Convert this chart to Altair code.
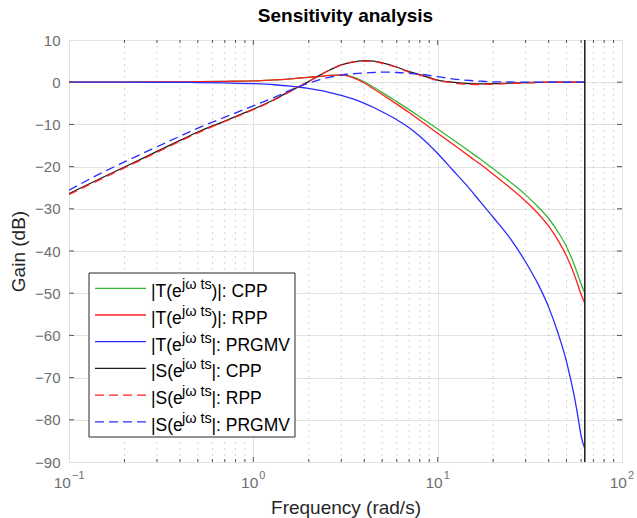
import altair as alt
import pandas as pd

# ---------------- data ----------------
freq = [0.1, 0.15, 0.2, 0.3, 0.4, 0.5, 0.7, 1.0, 1.3, 1.6, 1.8, 2.0, 2.3, 2.6,
        3.0, 3.5, 4.0, 4.5, 5.0, 6.0, 7.0, 8.0, 10, 12, 15, 17, 20, 25, 30,
        35, 40, 45, 50, 55, 58, 60, 62.83]

t_cpp = [0, 0, 0.02, 0.05, 0.08, 0.12, 0.2, 0.3, 0.55, 0.8, 1.0, 1.15, 1.4, 1.6,
         1.75, 1.2, 0.1, -1.2, -2.4, -4.6, -6.5, -8.2, -11.1, -13.5, -16.5, -18.2,
         -20.5, -23.8, -26.7, -29.5, -32.3, -35.5, -39.0, -43.2, -46.0, -47.8, -50.0]

t_rpp = [0, 0, 0.02, 0.05, 0.08, 0.12, 0.2, 0.3, 0.55, 0.8, 1.0, 1.15, 1.4, 1.6,
         1.75, 1.05, -0.2, -1.6, -2.9, -5.2, -7.2, -9.0, -12.1, -14.6, -17.7, -19.4,
         -21.8, -25.2, -28.2, -31.1, -34.1, -37.5, -41.2, -45.5, -48.4, -50.3, -52.3]

t_prgmv = [0, 0, 0, -0.02, -0.05, -0.08, -0.18, -0.35, -0.6, -0.95, -1.2, -1.5,
           -1.95, -2.45, -3.1, -4.0, -5.0, -6.0, -7.0, -8.9, -10.8, -12.8, -16.9,
           -20.7, -25.4, -28.3, -32.0, -37.3, -42.6, -47.8, -53.3, -59.5, -66.2,
           -74.3, -79.9, -83.8, -86.8]

s_cpp = [-26.4, -22.7, -20.1, -16.4, -13.8, -11.8, -9.2, -6.4, -4.1, -2.0, -0.9,
         0.2, 1.7, 2.9, 4.1, 4.8, 5.1, 5.0, 4.6, 3.6, 2.5, 1.8, 0.5, 0.0, -0.35,
         -0.4, -0.35, -0.2, -0.1, -0.05, 0, 0, 0, 0, 0, 0, 0]

s_rpp = [-26.6, -22.9, -20.3, -16.6, -14.0, -12.0, -9.3, -6.5, -4.2, -2.1, -0.9,
         0.2, 1.7, 2.9, 4.1, 4.8, 5.0, 4.9, 4.5, 3.5, 2.4, 1.7, 0.4, -0.15, -0.5,
         -0.55, -0.45, -0.3, -0.15, -0.05, 0, 0, 0, 0, 0, 0, 0]

s_prgmv = [-25.6, -21.5, -18.9, -15.3, -12.8, -10.9, -8.3, -5.6, -3.6, -1.8, -0.9,
           -0.2, 0.6, 1.2, 1.7, 2.0, 2.2, 2.3, 2.4, 2.3, 2.1, 1.9, 1.3, 0.8, 0.4,
           0.25, 0.1, 0.05, 0, 0, 0, 0, 0, 0, 0, 0, 0]

nyquist = [62.83]

series_values = [t_cpp, t_rpp, t_prgmv, s_cpp, s_rpp, s_prgmv]
legend_base = ["|T(e", "|T(e", "|T(e", "|S(e", "|S(e", "|S(e"]
legend_sup = ["j\u03c9 ts"] * 6
legend_rest = [")|: CPP", ")|: RPP", "|: PRGMV", "|: CPP", "|: RPP", "|: PRGMV"]
colors = ["#33b833", "#ff2020", "#2b2bff", "#1e1e1e", "#ff2020", "#2b2bff"]
dashed = [False, False, False, False, True, True]

major_x = [0.1, 1, 10, 100]
x_exp = ["\u22121", "0", "1", "2"]
minor_x = [0.2, 0.3, 0.4, 0.5, 0.6, 0.7, 0.8, 0.9,
           2, 3, 4, 5, 6, 7, 8, 9,
           20, 30, 40, 50, 60, 70, 80, 90]
y_ticks = list(range(-90, 11, 10))

# ---------------- layout ----------------
W, H = 553, 422
FONT = "Liberation Sans"
LABEL_COLOR = "#6e6e6e"
TITLE_SIZE = 19

x_enc = alt.X("f:Q",
              scale=alt.Scale(type="log", domain=[0.1, 100], nice=False),
              axis=alt.Axis(values=major_x, grid=True, gridColor="#e2e2e2",
                            labels=False, ticks=False, domain=False,
                            title="Frequency (rad/s)", titleFont=FONT,
                            titleFontSize=TITLE_SIZE, titleFontWeight="normal",
                            titleColor="#262626", titleX=W / 2, titleY=45,
                            titleAlign="center", titleBaseline="middle"))
y_enc = alt.Y("dB:Q",
              scale=alt.Scale(domain=[-90, 10], nice=False, zero=False),
              axis=alt.Axis(values=y_ticks, grid=True, gridColor="#e2e2e2",
                            ticks=False, domain=False, labelFont=FONT,
                            labelFontSize=15, labelColor=LABEL_COLOR,
                            labelPadding=9,
                            title="Gain (dB)", titleFont=FONT,
                            titleFontSize=TITLE_SIZE,
                            titleFontWeight="normal", titleColor="#262626",
                            titleX=-51, titleY=H / 2, titleAngle=270,
                            titleAlign="center", titleBaseline="middle"))

layers = []

# minor dotted grid
minor_df = pd.DataFrame({"f": minor_x})
layers.append(alt.Chart(minor_df).mark_rule(color="#c8c8c8", strokeWidth=1,
                                            strokeDash=[1.5, 4.5]).encode(x=x_enc))

# curves
for vals, col, dsh in zip(series_values, colors, dashed):
    df = pd.DataFrame({"f": freq, "dB": vals})
    kw = dict(color=col, strokeWidth=1.3, interpolate="monotone", clip=True)
    if dsh:
        kw["strokeDash"] = [9, 5]
    layers.append(alt.Chart(df).mark_line(**kw).encode(x=x_enc, y=y_enc))

# Nyquist vertical line
layers.append(alt.Chart(pd.DataFrame({"f": nyquist})).mark_rule(
    color="#1a1a1a", strokeWidth=1.5).encode(x=x_enc))

# inner ticks
major_df = pd.DataFrame({"f": major_x[1:-1]})
for y0, y1, d in [(H, H - 5, major_df), (0, 5, major_df),
                  (H, H - 3, minor_df), (0, 3, minor_df)]:
    layers.append(alt.Chart(d).mark_rule(color="#555555", strokeWidth=1).encode(
        x=x_enc, y=alt.value(y0), y2=alt.value(y1)))
ytick_df = pd.DataFrame({"dB": y_ticks[1:-1]})
for x0, x1 in [(0, 5), (W, W - 5)]:
    layers.append(alt.Chart(ytick_df).mark_rule(color="#555555", strokeWidth=1).encode(
        y=y_enc, x=alt.value(x0), x2=alt.value(x1)))

# x tick labels 10^n
xl_df = pd.DataFrame({"f": major_x, "base": ["10"] * 4, "exp": x_exp})
one = "length(datum.exp) == 1"
two = "length(datum.exp) != 1"
for flt, dxb, dxe in [(one, 5, 6), (two, 2, 3)]:
    base = alt.Chart(xl_df).transform_filter(flt)
    layers.append(base.mark_text(align="right", baseline="alphabetic", dx=dxb,
                                 font=FONT, fontSize=15.5, color=LABEL_COLOR).encode(
        x=x_enc, y=alt.value(H + 26), text="base:N"))
    layers.append(base.mark_text(align="left", baseline="alphabetic", dx=dxe,
                                 font=FONT, fontSize=11, color=LABEL_COLOR).encode(
        x=x_enc, y=alt.value(H + 17), text="exp:N"))

# legend box
box = alt.Chart(pd.DataFrame({"k": [0]})).mark_rect(
    fill="white", stroke="#262626", strokeWidth=1).encode(
    x=alt.value(20), x2=alt.value(226), y=alt.value(233), y2=alt.value(397))
layers.append(box)

LEG_SIZE, SUP_SIZE = 17.5, 14.5
row0, step = 248.3, 26.7
for i in range(6):
    yr = row0 + step * i
    one_row = pd.DataFrame({"k": [0]})
    kw = dict(color=colors[i], strokeWidth=1.3)
    if dashed[i]:
        kw["strokeDash"] = [9, 5]
    layers.append(alt.Chart(one_row).mark_rule(**kw).encode(
        x=alt.value(26), x2=alt.value(77), y=alt.value(yr)))
    layers.append(alt.Chart(one_row).mark_text(
        align="left", baseline="alphabetic", font=FONT, fontSize=LEG_SIZE,
        color="#000000", text=legend_base[i]).encode(
        x=alt.value(82), y=alt.value(yr + 9)))
    layers.append(alt.Chart(one_row).mark_text(
        align="left", baseline="alphabetic", font=FONT, fontSize=SUP_SIZE,
        color="#000000", text=legend_sup[i]).encode(
        x=alt.value(113), y=alt.value(yr + 1)))
    layers.append(alt.Chart(one_row).mark_text(
        align="left", baseline="alphabetic", font=FONT, fontSize=LEG_SIZE,
        color="#000000", text=legend_rest[i]).encode(
        x=alt.value(142.5), y=alt.value(yr + 9)))

chart = alt.layer(*layers).properties(
    width=W, height=H,
    title=alt.TitleParams("Sensitivity analysis", font=FONT, fontSize=TITLE_SIZE,
                          fontWeight="bold", color="#000000", anchor="middle",
                          offset=7),
    autosize=alt.AutoSizeParams(type="none"),
    padding={"left": 69, "top": 40, "right": 15, "bottom": 56},
).configure_view(stroke="#555555", strokeWidth=1).configure(background="white")

chart.save("out.html", embed_options={"renderer": "svg", "actions": False})
